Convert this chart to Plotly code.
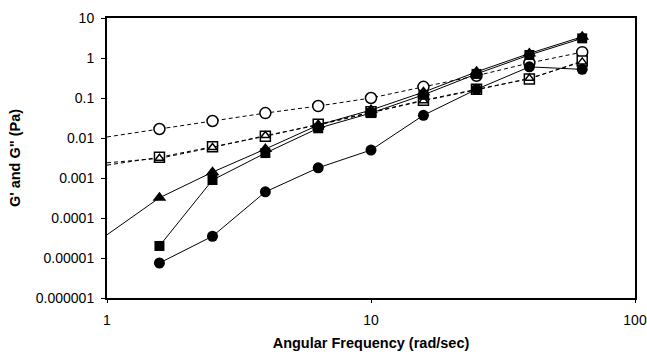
import plotly.graph_objects as go

# Angular frequency (rad/sec)
freq = [1.58, 2.51, 3.98, 6.31, 10.0, 15.8, 25.1, 39.8, 63.1]

# Filled symbols (solid lines)
g_circle_filled = [7.5e-6, 3.5e-5, 4.5e-4, 1.8e-3, 5.0e-3, 0.037, 0.165, 0.6, 0.52]
g_square_filled = [2.0e-5, 8.9e-4, 4.2e-3, 0.0175, 0.042, 0.12, 0.40, 1.19, 3.1]
g_triangle_filled = [3.2e-4, 1.4e-3, 5.3e-3, 0.021, 0.05, 0.14, 0.45, 1.3, 3.4]

# Open symbols (dashed lines)
g_circle_open = [0.0168, 0.0266, 0.042, 0.063, 0.1, 0.19, 0.36, 0.75, 1.4]
g_square_open = [3.3e-3, 6.0e-3, 0.011, 0.022, 0.045, 0.088, 0.165, 0.30, 0.84]
g_triangle_open = [3.1e-3, 5.8e-3, 0.0115, 0.021, 0.043, 0.085, 0.16, 0.31, 0.80]

# Line values where lines meet the left axis (x = 1)
x_left = 1.0
start_triangle_filled = 3.8e-5
start_circle_open = 0.0106
start_square_open = 0.0021
start_triangle_open = 0.0024

y_tickvals = [1e-6, 1e-5, 1e-4, 1e-3, 1e-2, 1e-1, 1, 10]
y_ticktext = ["0.000001", "0.00001", "0.0001", "0.001", "0.01", "0.1", "1", "10"]
x_tickvals = [1, 10, 100]
x_ticktext = ["1", "10", "100"]

fig = go.Figure()

dash_line = dict(color="black", width=1, dash="4px,3px")
solid_line = dict(color="black", width=1)

# extension segments to the left axis
for start, series, line in [
    (start_circle_open, g_circle_open, dash_line),
    (start_square_open, g_square_open, dash_line),
    (start_triangle_open, g_triangle_open, dash_line),
    (start_triangle_filled, g_triangle_filled, solid_line),
]:
    fig.add_trace(go.Scatter(x=[x_left, freq[0]], y=[start, series[0]], mode="lines",
                             line=line, showlegend=False, hoverinfo="skip"))

open_marker = lambda sym, size: dict(symbol=sym, size=size, color="white",
                                     line=dict(color="black", width=1.5))
filled_marker = lambda sym, size: dict(symbol=sym, size=size, color="black",
                                       line=dict(color="black", width=0))

fig.add_trace(go.Scatter(x=freq, y=g_circle_open, mode="lines+markers", line=dash_line,
                         marker=open_marker("circle", 11), name="G'' circle"))
fig.add_trace(go.Scatter(x=freq, y=g_square_open, mode="lines+markers", line=dash_line,
                         marker=open_marker("square", 10), name="G'' square"))
fig.add_trace(go.Scatter(x=freq, y=g_triangle_open, mode="lines+markers", line=dash_line,
                         marker=open_marker("triangle-up", 8), name="G'' triangle"))
fig.add_trace(go.Scatter(x=freq, y=g_circle_filled, mode="lines+markers", line=solid_line,
                         marker=filled_marker("circle", 11), name="G' circle"))
fig.add_trace(go.Scatter(x=freq, y=g_square_filled, mode="lines+markers", line=solid_line,
                         marker=filled_marker("square", 10), name="G' square"))
fig.add_trace(go.Scatter(x=freq, y=g_triangle_filled, mode="lines+markers", line=solid_line,
                         marker=filled_marker("triangle-up", 12), name="G' triangle"))

font = "Liberation Sans, Arial, sans-serif"

fig.update_layout(
    width=647, height=354,
    margin=dict(l=107, r=12, t=18, b=56),
    paper_bgcolor="white", plot_bgcolor="white",
    showlegend=False,
    font=dict(family=font, size=14, color="black"),
    xaxis=dict(type="log", range=[0, 2], tickvals=x_tickvals, ticktext=x_ticktext,
               automargin=False, ticklabeloverflow="allow",
               showgrid=False, zeroline=False, showline=True, linecolor="black",
               linewidth=2, mirror=True, ticks="outside", ticklen=3, tickcolor="black",
               ticklabelstandoff=5,
               title=dict(text="<b>Angular Frequency (rad/sec)</b>", font=dict(size=14.5),
                          standoff=11)),
    yaxis=dict(type="log", range=[-6, 1], tickvals=y_tickvals, ticktext=y_ticktext,
               automargin=False,
               showgrid=False, zeroline=False, showline=True, linecolor="black",
               linewidth=2, mirror=True, ticks="outside", ticklen=4, tickcolor="black",
               ticklabelstandoff=4,
               title=dict(text="<b>G' and G\" (Pa)</b>", font=dict(size=14.5), standoff=12)),
)

fig.write_html("out.html",
               config={"displayModeBar": False},
               post_script="document.body.style.margin='0';document.body.style.overflow='hidden';")
